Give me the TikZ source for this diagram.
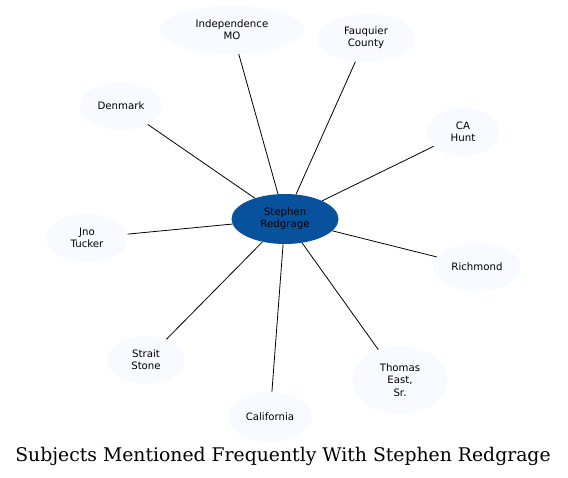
\documentclass[tikz,border=0pt]{standalone}
\usepackage{fontspec}
\setmainfont{DejaVu Serif}
\newfontfamily\nodefont{DejaVu Sans}
\usetikzlibrary{shapes.geometric}
\definecolor{outerfill}{HTML}{F7FBFF}
\definecolor{centerfill}{HTML}{08519C}
\tikzset{
  outer/.style={ellipse, fill=outerfill, inner sep=0pt, align=center,
    font=\nodefont\fontsize{10.2}{12.2}\selectfont},
  hub/.style={ellipse, fill=centerfill, inner sep=0pt, align=center,
    font=\nodefont\fontsize{10.2}{12.2}\selectfont, text=black},
  link/.style={draw=black, line width=0.8pt}
}
\begin{document}
\begin{tikzpicture}[x=1pt,y=-1pt]
\useasboundingbox (0,0) rectangle (568,477);
\node[hub, minimum width=107pt, minimum height=50pt] (c) at (285,219) {Stephen\\Redgrage};
\node[outer, minimum width=144pt, minimum height=48pt] (ind) at (232,30) {Independence\\MO};
\node[outer, minimum width=98pt, minimum height=48pt] (fau) at (366,38) {Fauquier\\County};
\node[outer, minimum width=82pt, minimum height=48pt] (den) at (121,106) {Denmark};
\node[outer, minimum width=72pt, minimum height=48pt] (ca) at (463,132) {CA\\Hunt};
\node[outer, minimum width=82pt, minimum height=48pt] (jno) at (87,238) {Jno\\Tucker};
\node[outer, minimum width=88pt, minimum height=48pt] (ric) at (477,267) {Richmond};
\node[outer, minimum width=78pt, minimum height=48pt] (str) at (146,360) {Strait\\Stone};
\node[outer, minimum width=95pt, minimum height=68pt] (tho) at (400,380) {Thomas\\East,\\Sr.};
\node[outer, minimum width=84pt, minimum height=50pt] (cal) at (270,417) {California};
\foreach \n in {ind,fau,den,ca,jno,ric,str,tho,cal} \draw[link] (c) -- (\n);
\node[font=\fontsize{18.8}{22}\selectfont] (title) at (283,456) {Subjects Mentioned Frequently With Stephen Redgrage};
\end{tikzpicture}
\end{document}
